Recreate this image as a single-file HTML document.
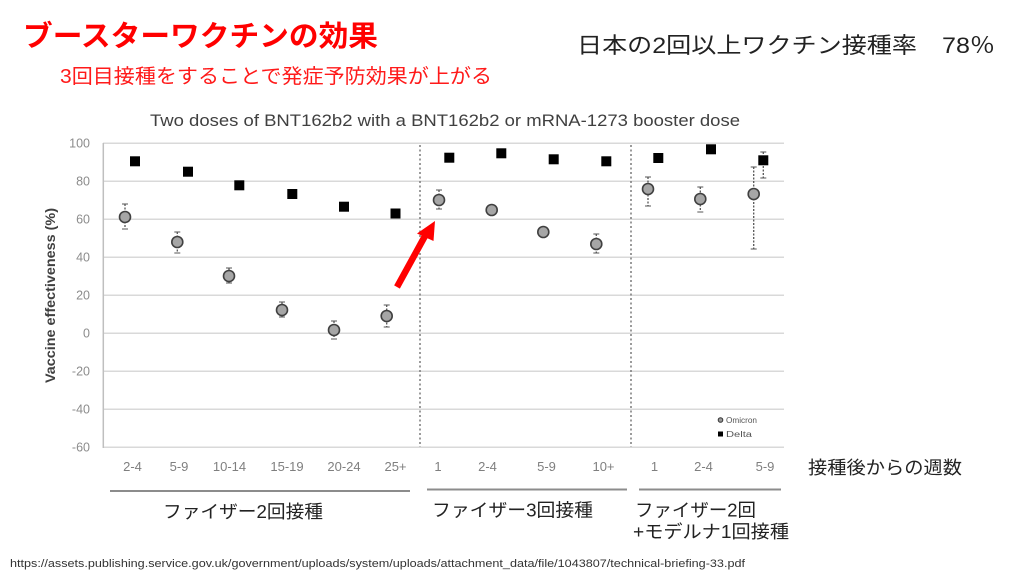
<!DOCTYPE html>
<html><head><meta charset="utf-8"><style>
html,body{margin:0;padding:0;background:#fff;}
svg{display:block;}
.jp{font-family:"Liberation Sans","Noto Sans CJK JP",sans-serif;}
.lat{font-family:"Liberation Sans",sans-serif;}
</style></head><body>
<svg width="1024" height="576" viewBox="0 0 1024 576" xmlns="http://www.w3.org/2000/svg">
<rect width="1024" height="576" fill="#fff"/>
<!-- headers -->
<text class="jp" x="23" y="46" font-size="29" font-weight="bold" fill="#ff0000" textLength="355" lengthAdjust="spacingAndGlyphs">ブースターワクチンの効果</text>
<text class="jp" x="60" y="83" font-size="20" fill="#ff1a1a" textLength="432" lengthAdjust="spacingAndGlyphs">3回目接種をすることで発症予防効果が上がる</text>
<text class="jp" x="577" y="53" font-size="22" fill="#222" textLength="418" lengthAdjust="spacingAndGlyphs">日本の2回以上ワクチン接種率　78％</text>

<!-- chart title -->
<text class="lat" x="150" y="126" font-size="17" fill="#404040" textLength="590" lengthAdjust="spacingAndGlyphs">Two doses of BNT162b2 with a BNT162b2 or mRNA-1273 booster dose</text>

<!-- gridlines -->
<g stroke="#d9d9d9" stroke-width="1.5">
<line x1="103" y1="143.3" x2="784" y2="143.3"/>
<line x1="103" y1="181.3" x2="784" y2="181.3"/>
<line x1="103" y1="219.3" x2="784" y2="219.3"/>
<line x1="103" y1="257.3" x2="784" y2="257.3"/>
<line x1="103" y1="295.3" x2="784" y2="295.3"/>
<line x1="103" y1="333.3" x2="784" y2="333.3"/>
<line x1="103" y1="371.3" x2="784" y2="371.3"/>
<line x1="103" y1="409.3" x2="784" y2="409.3"/>
<line x1="103" y1="447.3" x2="784" y2="447.3"/>
</g>
<line x1="103.3" y1="143" x2="103.3" y2="448" stroke="#bfbfbf" stroke-width="1.5"/>
<g stroke="#7a7a7a" stroke-width="1.5" stroke-dasharray="2 2.5">
<line x1="420" y1="145" x2="420" y2="447"/>
<line x1="631" y1="145" x2="631" y2="447"/>
</g>

<!-- y tick labels -->
<g class="lat" font-size="12.5" fill="#8c8c8c" text-anchor="end">
<text x="90" y="147.5">100</text>
<text x="90" y="185.5">80</text>
<text x="90" y="223.5">60</text>
<text x="90" y="261.5">40</text>
<text x="90" y="299.5">20</text>
<text x="90" y="337.5">0</text>
<text x="90" y="375.5">-20</text>
<text x="90" y="413.5">-40</text>
<text x="90" y="451.5">-60</text>
</g>
<text class="lat" x="55" y="295.5" font-size="14" font-weight="bold" fill="#404040" text-anchor="middle" transform="rotate(-90 55 295.5)" textLength="175" lengthAdjust="spacingAndGlyphs">Vaccine effectiveness (%)</text>

<!-- x tick labels -->
<g class="lat" font-size="13" fill="#7f7f7f" text-anchor="middle">
<text x="132.5" y="471">2-4</text>
<text x="179" y="471">5-9</text>
<text x="229.5" y="471">10-14</text>
<text x="287" y="471">15-19</text>
<text x="344" y="471">20-24</text>
<text x="395.5" y="471">25+</text>
<text x="438" y="471">1</text>
<text x="487.5" y="471">2-4</text>
<text x="546.5" y="471">5-9</text>
<text x="603.5" y="471">10+</text>
<text x="654.5" y="471">1</text>
<text x="703.5" y="471">2-4</text>
<text x="765" y="471">5-9</text>
</g>

<!-- error bars -->
<g stroke="#555" stroke-width="1.3" stroke-dasharray="2 1.5">
<line x1="125" y1="204" x2="125" y2="229"/>
<line x1="177.3" y1="232" x2="177.3" y2="253"/>
<line x1="229" y1="268" x2="229" y2="283"/>
<line x1="282" y1="302" x2="282" y2="317"/>
<line x1="334" y1="321" x2="334" y2="339"/>
<line x1="386.7" y1="305" x2="386.7" y2="327"/>
<line x1="439" y1="190" x2="439" y2="209"/>
<line x1="491.7" y1="204" x2="491.7" y2="214"/>
<line x1="543.3" y1="226" x2="543.3" y2="236"/>
<line x1="596.3" y1="234" x2="596.3" y2="253"/>
<line x1="648" y1="177" x2="648" y2="206"/>
<line x1="700.3" y1="187" x2="700.3" y2="212"/>
<line x1="753.7" y1="167" x2="753.7" y2="249"/>
<line x1="763.3" y1="152" x2="763.3" y2="178"/>
</g>
<g stroke="#555" stroke-width="1">
<line x1="122" y1="204" x2="128" y2="204"/><line x1="122" y1="229" x2="128" y2="229"/>
<line x1="174.3" y1="232" x2="180.3" y2="232"/><line x1="174.3" y1="253" x2="180.3" y2="253"/>
<line x1="226" y1="268" x2="232" y2="268"/><line x1="226" y1="283" x2="232" y2="283"/>
<line x1="279" y1="302" x2="285" y2="302"/><line x1="279" y1="317" x2="285" y2="317"/>
<line x1="331" y1="321" x2="337" y2="321"/><line x1="331" y1="339" x2="337" y2="339"/>
<line x1="383.7" y1="305" x2="389.7" y2="305"/><line x1="383.7" y1="327" x2="389.7" y2="327"/>
<line x1="436" y1="190" x2="442" y2="190"/><line x1="436" y1="209" x2="442" y2="209"/>
<line x1="593.3" y1="234" x2="599.3" y2="234"/><line x1="593.3" y1="253" x2="599.3" y2="253"/>
<line x1="645" y1="177" x2="651" y2="177"/><line x1="645" y1="206" x2="651" y2="206"/>
<line x1="697.3" y1="187" x2="703.3" y2="187"/><line x1="697.3" y1="212" x2="703.3" y2="212"/>
<line x1="750.7" y1="167" x2="756.7" y2="167"/><line x1="750.7" y1="249" x2="756.7" y2="249"/>
<line x1="760.3" y1="152" x2="766.3" y2="152"/><line x1="760.3" y1="178" x2="766.3" y2="178"/>
</g>

<!-- omicron circles -->
<g fill="#a6a6a6" stroke="#404040" stroke-width="1.6">
<circle cx="125" cy="217" r="5.5"/>
<circle cx="177.3" cy="242" r="5.5"/>
<circle cx="229" cy="276" r="5.5"/>
<circle cx="282" cy="310" r="5.5"/>
<circle cx="334" cy="330" r="5.5"/>
<circle cx="386.7" cy="316" r="5.5"/>
<circle cx="439" cy="200" r="5.5"/>
<circle cx="491.7" cy="210" r="5.5"/>
<circle cx="543.3" cy="232" r="5.5"/>
<circle cx="596.3" cy="244" r="5.5"/>
<circle cx="648" cy="189" r="5.5"/>
<circle cx="700.3" cy="199" r="5.5"/>
<circle cx="753.7" cy="194" r="5.5"/>
</g>

<!-- delta squares -->
<g fill="#000">
<rect x="130" y="156.3" width="10" height="10"/>
<rect x="183" y="166.7" width="10" height="10"/>
<rect x="234.3" y="180.3" width="10" height="10"/>
<rect x="287.3" y="189" width="10" height="10"/>
<rect x="339" y="201.7" width="10" height="10"/>
<rect x="390.5" y="208.5" width="10" height="10"/>
<rect x="444.3" y="152.7" width="10" height="10"/>
<rect x="496.3" y="148.3" width="10" height="10"/>
<rect x="548.7" y="154.3" width="10" height="10"/>
<rect x="601.3" y="156.3" width="10" height="10"/>
<rect x="653.3" y="153" width="10" height="10"/>
<rect x="706" y="144.3" width="10" height="10"/>
<rect x="758.3" y="155.3" width="10" height="10"/>
</g>

<!-- legend -->
<circle cx="720.5" cy="420" r="2.3" fill="#999" stroke="#333" stroke-width="1"/>
<text class="lat" x="726" y="423" font-size="8" fill="#555" textLength="31" lengthAdjust="spacingAndGlyphs">Omicron</text>
<rect x="718" y="431.5" width="5" height="5" fill="#000"/>
<text class="lat" x="726" y="437" font-size="8" fill="#555" textLength="26" lengthAdjust="spacingAndGlyphs">Delta</text>

<!-- arrow -->
<line x1="397" y1="287" x2="425" y2="236" stroke="#ff0000" stroke-width="6.5"/>
<polygon points="435,221 417,233.5 433.5,241" fill="#ff0000"/>

<!-- group lines -->
<g stroke="#8c8c8c" stroke-width="2">
<line x1="110" y1="491" x2="410" y2="491"/>
<line x1="427" y1="489.5" x2="627" y2="489.5"/>
<line x1="639" y1="489.5" x2="781" y2="489.5"/>
</g>

<!-- japanese labels -->
<g class="jp" font-size="18" fill="#222">
<text x="163" y="518" textLength="160" lengthAdjust="spacingAndGlyphs">ファイザー2回接種</text>
<text x="432" y="516.5" textLength="161" lengthAdjust="spacingAndGlyphs">ファイザー3回接種</text>
<text x="635" y="516.5" textLength="121" lengthAdjust="spacingAndGlyphs">ファイザー2回</text>
<text x="633" y="538" textLength="156" lengthAdjust="spacingAndGlyphs">+モデルナ1回接種</text>
<text x="808" y="474" textLength="154" lengthAdjust="spacingAndGlyphs">接種後からの週数</text>
</g>

<!-- source url -->
<text class="jp" x="10" y="567" font-size="11" fill="#333" textLength="735" lengthAdjust="spacingAndGlyphs">https://assets.publishing.service.gov.uk/government/uploads/system/uploads/attachment_data/file/1043807/technical-briefing-33.pdf</text>
</svg>
</body></html>
